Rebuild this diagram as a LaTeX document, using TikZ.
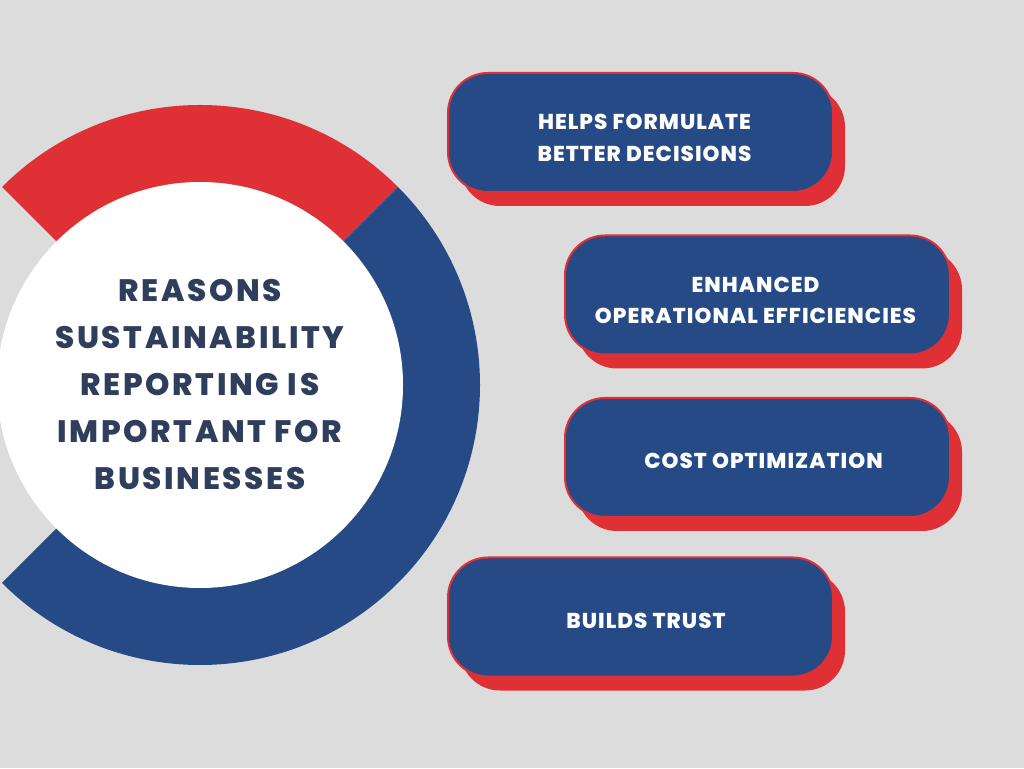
\documentclass[tikz,border=0pt]{standalone}
\usepackage{fontspec}
\setmainfont{Poppins}
\newfontfamily\titlefont{Poppins}[BoldFont={* ExtraBold}, LetterSpace=8.5]
\newfontfamily\reasonfont{Poppins}[BoldFont={* ExtraBold}, LetterSpace=4.8]
\usetikzlibrary{shadows}
\definecolor{bggray}{HTML}{DCDCDC}
\definecolor{ringred}{HTML}{DF3035}
\definecolor{ringblue}{HTML}{264A86}
\definecolor{titleblue}{HTML}{2E3E5C}

\begin{document}
\begin{tikzpicture}[x=1pt, y=1pt,
  reason/.style = {rounded corners=40pt, minimum width=385pt, minimum height=119pt,
    fill=ringblue, draw=ringred, line width=2pt,
    drop shadow={shadow xshift=12pt, shadow yshift=-14pt, fill=ringred, opacity=1}},
  reasontext/.style = {text=white, align=center, inner sep=0pt,
    font=\reasonfont\bfseries\fontsize{21.5}{31.5}\selectfont},
  title/.style = {circle, fill=white, minimum size=406pt, inner sep=0pt, text=titleblue,
    align=center, font=\titlefont\bfseries\fontsize{31}{47}\selectfont}]
\fill[bggray] (0,0) rectangle (1024,768);
\useasboundingbox (0,0) rectangle (1024,768);
\coordinate (c) at (200,383);
% ring
\fill[ringred] (c) -- ++(45:280) arc[start angle=45, end angle=135, radius=280] -- cycle;
\fill[ringblue] (c) -- ++(-135:280) arc[start angle=-135, end angle=45, radius=280] -- cycle;
\node[title] (t) at (c) {REASONS\\SUSTAINABILITY\\REPORTING IS\\IMPORTANT FOR\\BUSINESSES};
% reasons
\node[reason] (r1) at (640.5,635.5) {};
\node[reason] (r2) at (757.5,473) {};
\node[reason] (r3) at (757.5,310.5) {};
\node[reason] (r4) at (640.5,151) {};
\node[reasontext] (l1) at ([shift={(4,-5.5)}]r1.center) {HELPS FORMULATE\\BETTER DECISIONS};
\node[reasontext] (l2) at ([shift={(-2,-5.5)}]r2.center) {ENHANCED\\OPERATIONAL EFFICIENCIES};
\node[reasontext] (l3) at ([shift={(6,-3.5)}]r3.center) {COST OPTIMIZATION};
\node[reasontext] (l4) at ([shift={(5.5,-3.5)}]r4.center) {BUILDS TRUST};
\end{tikzpicture}
\end{document}
